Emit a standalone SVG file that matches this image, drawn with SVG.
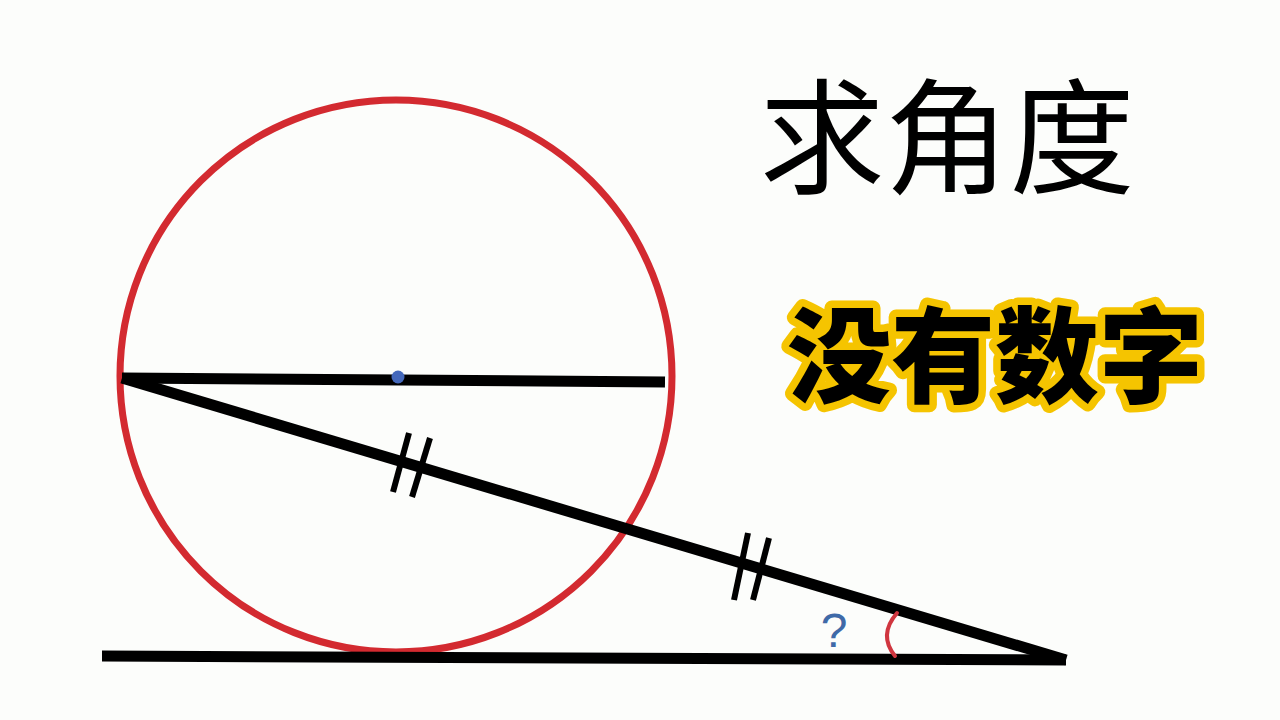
<svg xmlns="http://www.w3.org/2000/svg" width="1280" height="720" viewBox="0 0 1280 720">
  <style>
    .seg { stroke: #000; stroke-width: 11; fill: none; }
    .tick { stroke: #000; stroke-width: 6; fill: none; }
    .title { font-family: "Noto Sans CJK SC", "Noto Sans", sans-serif; font-size: 125px; font-weight: 400; fill: #000; text-anchor: middle; }
    .sub { font-family: "Noto Sans CJK SC", "Noto Sans", sans-serif; font-size: 104px; font-weight: 900; fill: #000; stroke: #f5c400; stroke-width: 15; stroke-linejoin: round; paint-order: stroke; text-anchor: middle; }
  </style>
  <rect width="1280" height="720" fill="#fcfdfb"/>
  <g id="circle">
    <circle cx="396" cy="376" r="276" fill="none" stroke="#d32a30" stroke-width="7"/>
  </g>
  <g id="connectors">
    <line class="seg" x1="122" y1="378" x2="665" y2="382"/>
    <line class="seg" x1="122" y1="378" x2="1066" y2="660"/>
    <line class="seg" x1="102" y1="656" x2="1066" y2="660"/>
    <line class="tick" x1="409" y1="433" x2="393" y2="492"/>
    <line class="tick" x1="430" y1="438" x2="412" y2="497"/>
    <line class="tick" x1="748" y1="533" x2="734" y2="600"/>
    <line class="tick" x1="769" y1="538" x2="753" y2="600"/>
  </g>
  <g id="center">
    <circle cx="398" cy="377" r="6.5" fill="#4468bb"/>
  </g>
  <g id="angle">
    <path d="M 897 613 Q 878 635 895 656" fill="none" stroke="#d0363f" stroke-width="4" stroke-linecap="round"/>
    <text x="834" y="647" font-family="Liberation Sans, Arial, sans-serif" font-size="48" fill="#3f6aa8" text-anchor="middle">?</text>
  </g>
  <g id="title">
    <text class="title" x="947" y="184">求角度</text>
  </g>
  <g id="subtitle">
    <text class="sub" x="995" y="395">没有数字</text>
  </g>
</svg>
